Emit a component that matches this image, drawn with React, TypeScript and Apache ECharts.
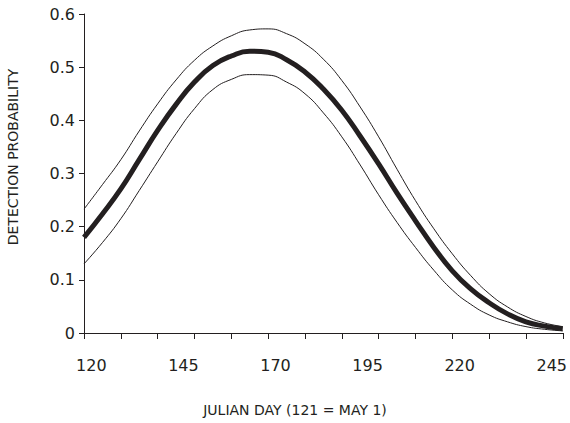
import React, { useEffect, useRef } from "react";
import * as echarts from "echarts";

const days = [118, 123, 128, 133, 138, 143, 148, 153, 158, 163, 168, 173, 178, 183, 188, 193, 198, 203, 208, 213, 218, 223, 228, 233, 238, 243, 248];
const estimate = [0.18, 0.224, 0.271, 0.326, 0.381, 0.43, 0.472, 0.503, 0.521, 0.53, 0.528, 0.514, 0.491, 0.459, 0.419, 0.37, 0.318, 0.263, 0.211, 0.161, 0.117, 0.083, 0.057, 0.036, 0.021, 0.013, 0.008];
const upperBound = [0.233, 0.279, 0.326, 0.38, 0.431, 0.476, 0.513, 0.54, 0.559, 0.57, 0.572, 0.563, 0.544, 0.515, 0.475, 0.425, 0.369, 0.308, 0.249, 0.196, 0.149, 0.108, 0.074, 0.049, 0.031, 0.019, 0.012];
const lowerBound = [0.13, 0.17, 0.215, 0.268, 0.322, 0.375, 0.422, 0.458, 0.477, 0.486, 0.485, 0.472, 0.45, 0.414, 0.369, 0.316, 0.26, 0.208, 0.161, 0.118, 0.081, 0.054, 0.034, 0.021, 0.012, 0.007, 0.004];
const xTickValues = [118, 128, 138, 148, 158, 168, 178, 188, 198, 208, 218, 228, 238, 248];
const xLabelValues = [120, 145, 170, 195, 220, 245];

const INK = "#231f20";
const FONT = "DejaVu Sans";

export default function App() {
  const ref = useRef<HTMLDivElement>(null);
  useEffect(() => {
    if (!ref.current) return;
    const chart = echarts.init(ref.current, null, { renderer: "svg" });
    const pair = (ys: number[]) => days.map((d, i) => [d, ys[i]]);
    chart.setOption({
      animation: false,
      grid: { left: 84, right: 4, top: 14, bottom: 90 },
      xAxis: {
        type: "value",
        min: 118,
        max: 248,
        splitLine: { show: false },
        axisLine: { show: true, lineStyle: { color: INK, width: 1 } },
        axisTick: { show: true, length: 6, customValues: xTickValues, lineStyle: { color: INK, width: 1 } },
        axisLabel: {
          customValues: xLabelValues,
          margin: 24,
          color: INK,
          fontFamily: FONT,
          fontSize: 16,
        },
      },
      yAxis: {
        type: "value",
        min: 0,
        max: 0.6,
        interval: 0.1,
        splitLine: { show: false },
        axisLine: { show: true, lineStyle: { color: INK, width: 1 } },
        axisTick: { show: true, length: 5, lineStyle: { color: INK } },
        axisLabel: {
          margin: 9,
          color: INK,
          fontFamily: FONT,
          fontSize: 16,
          formatter: (v: number) => (v === 0 ? "0" : v.toFixed(1)),
        },
      },
      graphic: [
        {
          type: "text",
          x: 13,
          y: 157,
          rotation: Math.PI / 2,
          style: {
            text: "DETECTION PROBABILITY",
            fill: INK,
            font: `14px ${FONT}`,
            textAlign: "center",
            textVerticalAlign: "middle",
          },
        },
        {
          type: "text",
          x: 295,
          y: 410,
          style: {
            text: "JULIAN DAY (121 = MAY 1)",
            fill: INK,
            font: `14px ${FONT}`,
            textAlign: "center",
            textVerticalAlign: "middle",
          },
        },
      ],
      series: [
        {
          type: "line",
          data: pair(upperBound),
          smooth: true,
          showSymbol: false,
          lineStyle: { color: INK, width: 1 },
        },
        {
          type: "line",
          data: pair(lowerBound),
          smooth: true,
          showSymbol: false,
          lineStyle: { color: INK, width: 1 },
        },
        {
          type: "line",
          data: pair(estimate),
          smooth: true,
          showSymbol: false,
          lineStyle: { color: INK, width: 5 },
        },
      ],
    });
    return () => chart.dispose();
  }, []);
  return (
    <div
      ref={ref}
      style={{ position: "fixed", left: 0, top: 0, width: 570, height: 423, background: "#fff" }}
    />
  );
}
